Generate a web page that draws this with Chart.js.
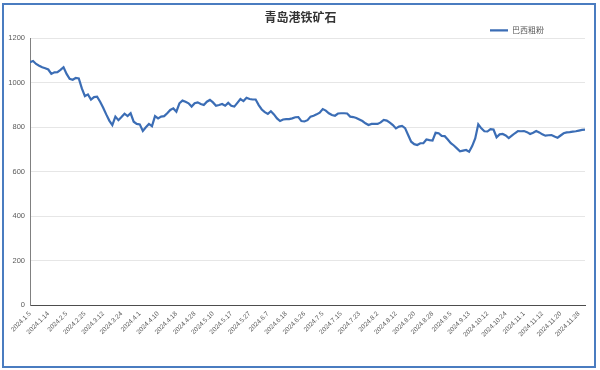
<!DOCTYPE html>
<html>
<head>
<meta charset="utf-8">
<title>青岛港铁矿石</title>
<script src="https://cdn.jsdelivr.net/npm/chart.js@4.4.1/dist/chart.umd.min.js"></script>
<style>
    html, body { margin: 0; padding: 0; background: #ffffff; }
    #wrap { position: relative; width: 600px; height: 370px; }
    #frame {
        position: absolute; left: 2px; top: 3px; width: 590px; height: 361px;
        border: 2px solid #4a7cc0; pointer-events: none;
    }
</style>
</head>
<body>
<div id="wrap">
    <canvas id="oreChart" width="600" height="370"></canvas>
    <div id="frame"></div>
</div>
<script>
    'use strict';

    const CHART_TITLE = '青岛港铁矿石';
    const SERIES_NAME = '巴西粗粉';

    // one label every 6 points along the x axis
    const tickLabels = [
        '2024.1.5', '2024.1.14', '2024.2.5', '2024.2.25', '2024.3.12', '2024.3.24',
        '2024.4.1', '2024.4.10', '2024.4.18', '2024.4.28', '2024.5.10', '2024.5.17',
        '2024.5.27', '2024.6.7', '2024.6.18', '2024.6.26', '2024.7.5', '2024.7.15',
        '2024.7.23', '2024.8.2', '2024.8.12', '2024.8.20', '2024.8.28', '2024.9.5',
        '2024.9.13', '2024.10.12', '2024.10.24', '2024.11.1', '2024.11.12', '2024.11.20',
        '2024.11.28'
    ];
    const LABEL_STEP = 6;

    // price, one value per point
    const brazilCoarseFines = [
        1093, 1098, 1085, 1077, 1070, 1066, 1060, 1040, 1047, 1048,
        1058, 1070, 1040, 1018, 1014, 1022, 1020, 975, 940, 948,
        925, 936, 938, 915, 888, 858, 830, 810, 848, 832,
        846, 861, 850, 863, 825, 815, 813, 783, 800, 815,
        805, 850, 840, 848, 850, 863, 878, 885, 870, 908,
        920, 915, 908, 893, 908, 912, 905, 900, 915, 923,
        912, 897, 900, 905, 897, 910, 897, 893, 910, 927,
        918, 933, 927, 925, 925, 900, 880, 868, 860, 872,
        858, 840, 828, 835, 837, 837, 840, 845, 846, 828,
        826, 832, 848, 852, 858, 866, 882, 875, 863, 855,
        852, 862, 863, 863, 862, 848, 846, 842, 835, 828,
        818, 810, 815, 815, 815, 822, 833, 830, 821, 810,
        795, 803, 806, 796, 765, 735, 724, 720, 728, 728,
        745, 742, 740, 775, 773, 761, 760, 745, 728, 718,
        705, 692, 695, 698, 690, 715, 750, 813, 795, 782,
        781, 792, 790, 755, 768, 770, 763, 751, 762, 773,
        783, 782, 783, 778, 770, 775, 783, 777, 768, 762,
        764, 765, 758, 753, 763, 773, 777, 778, 780, 782,
        785, 788, 789
    ];

    const Y_MIN = 0;
    const Y_MAX = 1200;
    const Y_STEP = 200;

    const LINE_COLOR = '#3b6db5';
    const TEXT_COLOR = '#595959';
    const LATIN_FONT = '"Liberation Sans", Arial, sans-serif';
    const CJK_FONT = '"Noto Sans CJK SC", sans-serif';

    // the sheet centres the title on the page and sets the legend in from the right
    const headerNudge = {
        id: 'headerNudge',
        afterLayout(chart) {
            chart.titleBlock.left += 8;
            chart.titleBlock.right += 8;
            chart.legend.left -= 39;
            chart.legend.right -= 39;
        }
    };

    function init() {
        const canvas = document.getElementById('oreChart');
        const points = brazilCoarseFines.map((v, i) => ({ x: i, y: v }));

        new Chart(canvas.getContext('2d'), {
            type: 'line',
            data: {
                datasets: [{
                    label: SERIES_NAME,
                    data: points,
                    borderColor: LINE_COLOR,
                    backgroundColor: LINE_COLOR,
                    borderWidth: 2.2,
                    pointRadius: 0,
                    tension: 0,
                    fill: false
                }]
            },
            options: {
                responsive: false,
                animation: false,
                devicePixelRatio: 1,
                layout: {
                    padding: { left: 0, right: 15, top: 0, bottom: 0 }
                },
                plugins: {
                    title: {
                        display: true,
                        text: CHART_TITLE,
                        color: '#333333',
                        font: { family: CJK_FONT, size: 12, weight: 'bold' },
                        padding: { top: 10, bottom: 0 }
                    },
                    legend: {
                        display: true,
                        position: 'top',
                        align: 'end',
                        maxHeight: 14,
                        labels: {
                            usePointStyle: true,
                            pointStyle: 'line',
                            pointStyleWidth: 18,
                            padding: 2,
                            color: TEXT_COLOR,
                            font: { family: CJK_FONT, size: 8 }
                        }
                    },
                    tooltip: { enabled: false }
                },
                scales: {
                    x: {
                        type: 'linear',
                        min: 0,
                        max: brazilCoarseFines.length - 1,
                        grid: { display: false, drawTicks: false },
                        border: { display: true, color: '#4d4d4d', width: 1 },
                        ticks: {
                            stepSize: LABEL_STEP,
                            includeBounds: false,
                            autoSkip: false,
                            maxRotation: 45,
                            minRotation: 45,
                            padding: 5,
                            color: TEXT_COLOR,
                            font: { family: LATIN_FONT, size: 6.5 },
                            callback: function (value) {
                                const label = tickLabels[value / LABEL_STEP];
                                return label === undefined ? '' : label;
                            }
                        },
                        afterFit: function (scale) {
                            scale.height = 65;
                        }
                    },
                    y: {
                        min: Y_MIN,
                        max: Y_MAX,
                        grid: { color: '#e6e6e6', lineWidth: 1, drawTicks: false },
                        border: { display: true, color: '#808080', width: 1 },
                        ticks: {
                            stepSize: Y_STEP,
                            padding: 5,
                            color: TEXT_COLOR,
                            font: { family: LATIN_FONT, size: 7.5 },
                            // plain numbers, no thousands separator
                            callback: function (value) {
                                return String(value);
                            }
                        },
                        afterFit: function (scale) {
                            scale.width = 30;
                        }
                    }
                }
            },
            plugins: [headerNudge]
        });
    }

    if (document.readyState === 'loading') {
        document.addEventListener('DOMContentLoaded', init);
    } else {
        init();
    }
</script>
</body>
</html>
